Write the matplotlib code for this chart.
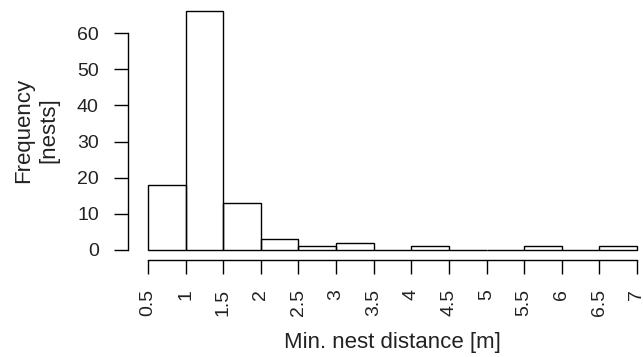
import matplotlib
matplotlib.use("Agg")
import matplotlib.pyplot as plt
import numpy as np

# Data
bin_edges = [0.5, 1.0, 1.5, 2.0, 2.5, 3.0, 3.5, 4.0, 4.5, 5.0, 5.5, 6.0, 6.5, 7.0]
counts = [18, 66, 13, 3, 1, 2, 0, 1, 0, 0, 1, 0, 1]
x_ticks = [0.5, 1, 1.5, 2, 2.5, 3, 3.5, 4, 4.5, 5, 5.5, 6, 6.5, 7]
x_tick_labels = ["0.5", "1", "1.5", "2", "2.5", "3", "3.5", "4", "4.5", "5", "5.5", "6", "6.5", "7"]
y_ticks = [0, 10, 20, 30, 40, 50, 60]
x_label = "Min. nest distance [m]"
y_label = "Frequency\n[nests]"

plt.rcParams['font.family'] = ['Liberation Sans', 'DejaVu Sans']

W, H = 643, 357
fig = plt.figure(figsize=(W / 100, H / 100), dpi=100)
ax = fig.add_axes([148 / W, 1 - 250 / H, 489 / W, 238.7 / H])

widths = np.diff(bin_edges)
ax.bar(bin_edges[:-1], counts, width=widths, align='edge', fill=False,
       edgecolor='black', linewidth=1.0, clip_on=False)

ax.set_xlim(0.5, 7)
ax.set_ylim(0, 66)

for s in ['top', 'right']:
    ax.spines[s].set_visible(False)
ax.spines['left'].set_position(('outward', 14.4))
ax.spines['bottom'].set_position(('outward', 7.2))
ax.spines['left'].set_bounds(0, 60)
ax.spines['bottom'].set_bounds(0.5, 7)
for s in ['left', 'bottom']:
    ax.spines[s].set_linewidth(1.0)

ax.set_xticks(x_ticks)
ax.set_xticklabels(x_tick_labels, rotation=90, va='top', ha='center')
ax.set_yticks(y_ticks)
ax.tick_params(axis='both', direction='out', length=10, width=1.0,
               labelsize=14, colors='black', labelcolor='#222222')
ax.tick_params(axis='x', pad=11)
ax.tick_params(axis='y', pad=11)

fig.text(36 / W, 1 - 130 / H, y_label, rotation=90, ha='center', va='center',
         multialignment='center', fontsize=16, color='#222222', linespacing=1.25)
fig.text(392.5 / W, 1 - 348 / H, x_label, ha='center', va='baseline',
         fontsize=16, color='#222222')

fig.savefig("out.png", dpi=100, facecolor='white')
